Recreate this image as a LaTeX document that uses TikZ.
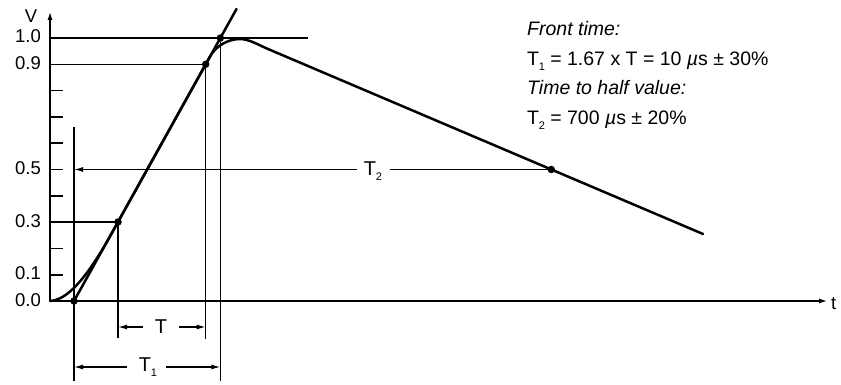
\documentclass[tikz,border=0pt]{standalone}
\usepackage{fontspec}
\setmainfont{Liberation Sans}
\usetikzlibrary{arrows.meta}
\newcommand{\Tsub}[1]{T\kern-0.3pt\raisebox{-0.45ex}{\fontsize{11}{11}\selectfont #1}}
\begin{document}
\begin{tikzpicture}[x=1pt,y=-1pt,
  thinln/.style={line width=1.3pt},
  tickln/.style={line width=1.7pt},
  axisln/.style={line width=2.1pt},
  curveln/.style={line width=2.5pt, line join=round, line cap=round},
  dotpt/.style={circle, fill, inner sep=0pt, minimum size=7.5pt},
  lbl/.style={font=\fontsize{18.5}{19}\selectfont, inner sep=0pt},
  dimlbl/.style={font=\fontsize{20}{21}\selectfont, inner sep=0pt},
  txt/.style={font=\fontsize{19.5}{22}\selectfont, anchor=base west, inner sep=0pt},
  tip/.style={-{Latex[length=9pt,width=5pt]}},
]
\useasboundingbox (0,0) rectangle (841,385);
% axes
\coordinate (O) at (50,301);
\coordinate (Ytop) at (50,11);
\coordinate (Xend) at (828,301);
\draw[axisln,tip] (O) -- (Ytop);
\draw[axisln,tip] (O) -- (Xend);
\node[lbl] (Vl) at (31,16) {V};
\node[lbl,anchor=base west] (tl) at (831,309) {t};
% axis labels
\node[lbl,anchor=base east] (l10) at (41,43) {1.0};
\node[lbl,anchor=base east] (l09) at (41,69.3) {0.9};
\node[lbl,anchor=base east] (l05) at (41,174.5) {0.5};
\node[lbl,anchor=base east] (l03) at (41,227) {0.3};
\node[lbl,anchor=base east] (l01) at (41,279.7) {0.1};
\node[lbl,anchor=base east] (l00) at (41,306) {0.0};
% ticks
\foreach \v in {0.1,0.2,0.4,0.5,0.6,0.7,0.8}
  \draw[tickln] (50,{301-263*\v}) -- ++(13,0);
% dots
\node[dotpt] (d0) at (74,301) {};
\node[dotpt] (d3) at (118,222) {};
\node[dotpt] (d9) at (205.7,64.3) {};
\node[dotpt] (d10) at (220.4,38) {};
\node[dotpt] (d5) at (551.3,169.5) {};
% guide lines
\coordinate (a10) at (50,38);
\coordinate (e10) at (308,38);
\coordinate (a09) at (50,64.3);
\coordinate (a03) at (50,222);
\draw[thinln] (a10) -- (e10);
\draw[thinln] (a09) -- (d9.center);
\draw[thinln] (a03) -- (d3.center);
\coordinate (v0top) at (74,127);
\coordinate (v0bot) at (74,381);
\coordinate (v3bot) at (118,338);
\coordinate (v9bot) at (205.7,339);
\coordinate (v10bot) at (220.4,381);
\draw[thinln] (v0top) -- (v0bot);
\draw[thinln] (d3.center) -- (v3bot);
\draw[thinln] (d9.center) -- (v9bot);
\draw[thinln] (d10.center) -- (v10bot);
% front line
\coordinate (Ftop) at (236.5,9);
\draw[curveln] (d0.center) -- (Ftop);
% waveform
\coordinate (Wend) at (703,234);
\draw[curveln] (O) .. controls (76,300) and (103.5,248) .. (d3.center) -- (210.3,56)
  .. controls (216,46) and (228,39) .. (240,39)
  .. controls (249,39) and (258.8,45.1) .. (268,49) -- (Wend);
% T dimension
\node[dimlbl] (Tn) at (161,327) {T};
\coordinate (Tl) at (143,327);
\coordinate (Tr) at (179,327);
\coordinate (Tle) at (118,327);
\coordinate (Tre) at (205.7,327);
\draw[thinln,tip] (Tl) -- (Tle);
\draw[thinln,tip] (Tr) -- (Tre);
% T1 dimension
\node[dimlbl] (T1n) at (148,367) {\Tsub{1}};
\coordinate (T1l) at (127,367);
\coordinate (T1r) at (166,367);
\coordinate (T1le) at (74,367);
\coordinate (T1re) at (220.4,367);
\draw[thinln,tip] (T1l) -- (T1le);
\draw[thinln,tip] (T1r) -- (T1re);
% T2 dimension
\node[dimlbl] (T2n) at (373,171) {\Tsub{2}};
\coordinate (T2l) at (357,169.5);
\coordinate (T2r) at (390,169.5);
\coordinate (T2le) at (74,169.5);
\draw[thinln,tip] (T2l) -- (T2le);
\draw[thinln] (T2r) -- (d5.center);
% text
\node[txt] (ft) at (527,36) {\itshape Front time:};
\node[txt] (f1) at (527,65.5) {\Tsub{1} = 1.67 x T = 10 {\itshape µ}s ± 30\%};
\node[txt] (th) at (527,95) {\itshape Time to half value:};
\node[txt] (f2) at (527,125) {\Tsub{2} = 700 {\itshape µ}s ± 20\%};
\end{tikzpicture}
\end{document}
